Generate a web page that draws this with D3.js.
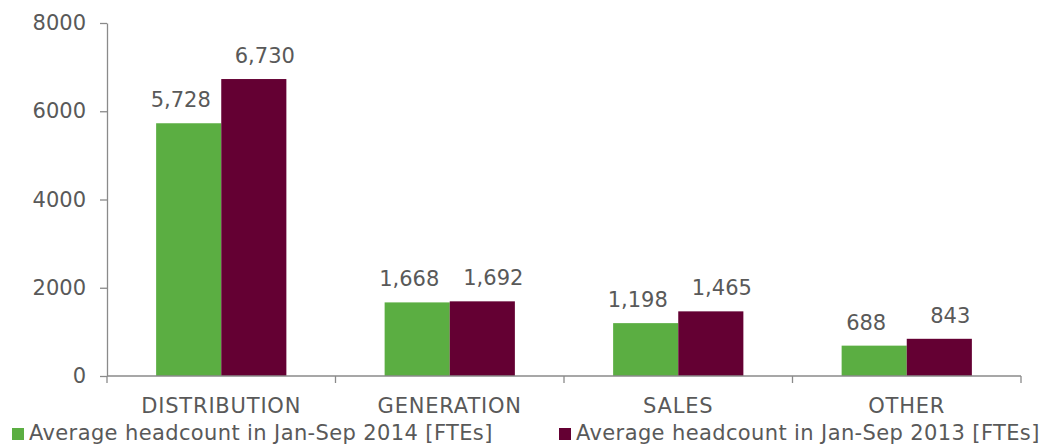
<!DOCTYPE html>
<html>
<head>
<meta charset="utf-8">
<script src="https://cdn.jsdelivr.net/npm/d3@7"></script>
<style>
  html, body { margin: 0; padding: 0; background: #fff; }
  text { font-family: "DejaVu Sans", Verdana, sans-serif; fill: #595959; }
</style>
</head>
<body>
<svg id="chart" width="1043" height="446"></svg>
<script>
// Average headcount by business segment (FTEs)
const categories = ["DISTRIBUTION", "GENERATION", "SALES", "OTHER"];
const seriesNames = [
  "Average headcount in Jan-Sep 2014 [FTEs]",
  "Average headcount in Jan-Sep 2013 [FTEs]"
];
const values2014 = [5728, 1668, 1198, 688];
const values2013 = [6730, 1692, 1465, 843];
const yTicks = [0, 2000, 4000, 6000, 8000];
const colors = ["#5bae42", "#640033"];

const svg = d3.select("#chart");
const axisColor = "#8a8a8a";
const fontSize = 21;
// horizontal nudge of value labels per series (2014 to the left, 2013 to the right)
const labelShift = [-8, 11];

const plotLeft = 107, plotRight = 1021, plotTop = 23, plotBottom = 376;

const x0 = d3.scaleBand()
  .domain(categories)
  .range([plotLeft, plotRight])
  .paddingInner(0.43)
  .paddingOuter(0.215);

const x1 = d3.scaleBand()
  .domain([0, 1])
  .range([0, x0.bandwidth()]);

const y = d3.scaleLinear().domain([0, 8000]).range([plotBottom, plotTop]);

const rows = categories.map((c, i) => ({ cat: c, vals: [values2014[i], values2013[i]] }));

// bars
const groups = svg.append("g").selectAll("g")
  .data(rows).join("g")
  .attr("transform", d => `translate(${x0(d.cat)},0)`);

groups.selectAll("rect")
  .data(d => d.vals.map((v, k) => ({ v, k })))
  .join("rect")
  .attr("x", d => x1(d.k))
  .attr("width", x1.bandwidth())
  .attr("y", d => y(d.v))
  .attr("height", d => y(0) - y(d.v))
  .attr("fill", d => colors[d.k]);

// value labels
groups.selectAll("text.val")
  .data(d => d.vals.map((v, k) => ({ v, k })))
  .join("text")
  .attr("class", "val")
  .attr("x", d => x1(d.k) + x1.bandwidth() / 2 + labelShift[d.k])
  .attr("y", d => y(d.v) - 16)
  .attr("text-anchor", "middle")
  .attr("font-size", fontSize)
  .text(d => d3.format(",")(d.v));

// y axis
const yAxis = svg.append("g")
  .attr("transform", `translate(${plotLeft},0)`)
  .call(d3.axisLeft(y).tickValues(yTicks).tickFormat(d3.format("d")).tickSizeInner(7).tickSizeOuter(0).tickPadding(14));
yAxis.select(".domain").attr("stroke", axisColor).attr("stroke-width", 1.3);
yAxis.selectAll(".tick line").attr("stroke", axisColor).attr("stroke-width", 1.3);
yAxis.selectAll(".tick text").attr("font-size", fontSize).attr("font-family", null).attr("fill", null);

// x axis with boundary ticks between categories
const boundaries = d3.range(categories.length + 1).map(i => plotLeft + i * x0.step());
const xg = svg.append("g");
xg.append("line")
  .attr("x1", plotLeft).attr("x2", plotRight)
  .attr("y1", plotBottom).attr("y2", plotBottom)
  .attr("stroke", axisColor).attr("stroke-width", 1.3);
xg.selectAll("line.tick")
  .data(boundaries).join("line")
  .attr("class", "tick")
  .attr("x1", d => d).attr("x2", d => d)
  .attr("y1", plotBottom).attr("y2", plotBottom + 7)
  .attr("stroke", axisColor).attr("stroke-width", 1.3);
xg.selectAll("text")
  .data(categories).join("text")
  .attr("x", d => x0(d) + x0.bandwidth() / 2)
  .attr("y", 413)
  .attr("text-anchor", "middle")
  .attr("font-size", fontSize)
  .attr("letter-spacing", 0.8)
  .text(d => d);

// legend
const legendX = [12, 559];
const legend = svg.append("g").selectAll("g")
  .data(seriesNames).join("g")
  .attr("transform", (d, i) => `translate(${legendX[i]},428)`);
legend.append("rect")
  .attr("width", 12).attr("height", 12)
  .attr("fill", (d, i) => colors[i]);
legend.append("text")
  .attr("x", 17).attr("y", 12)
  .attr("font-size", fontSize)
  .attr("letter-spacing", 0.38)
  .text(d => d);
</script>
</body>
</html>
